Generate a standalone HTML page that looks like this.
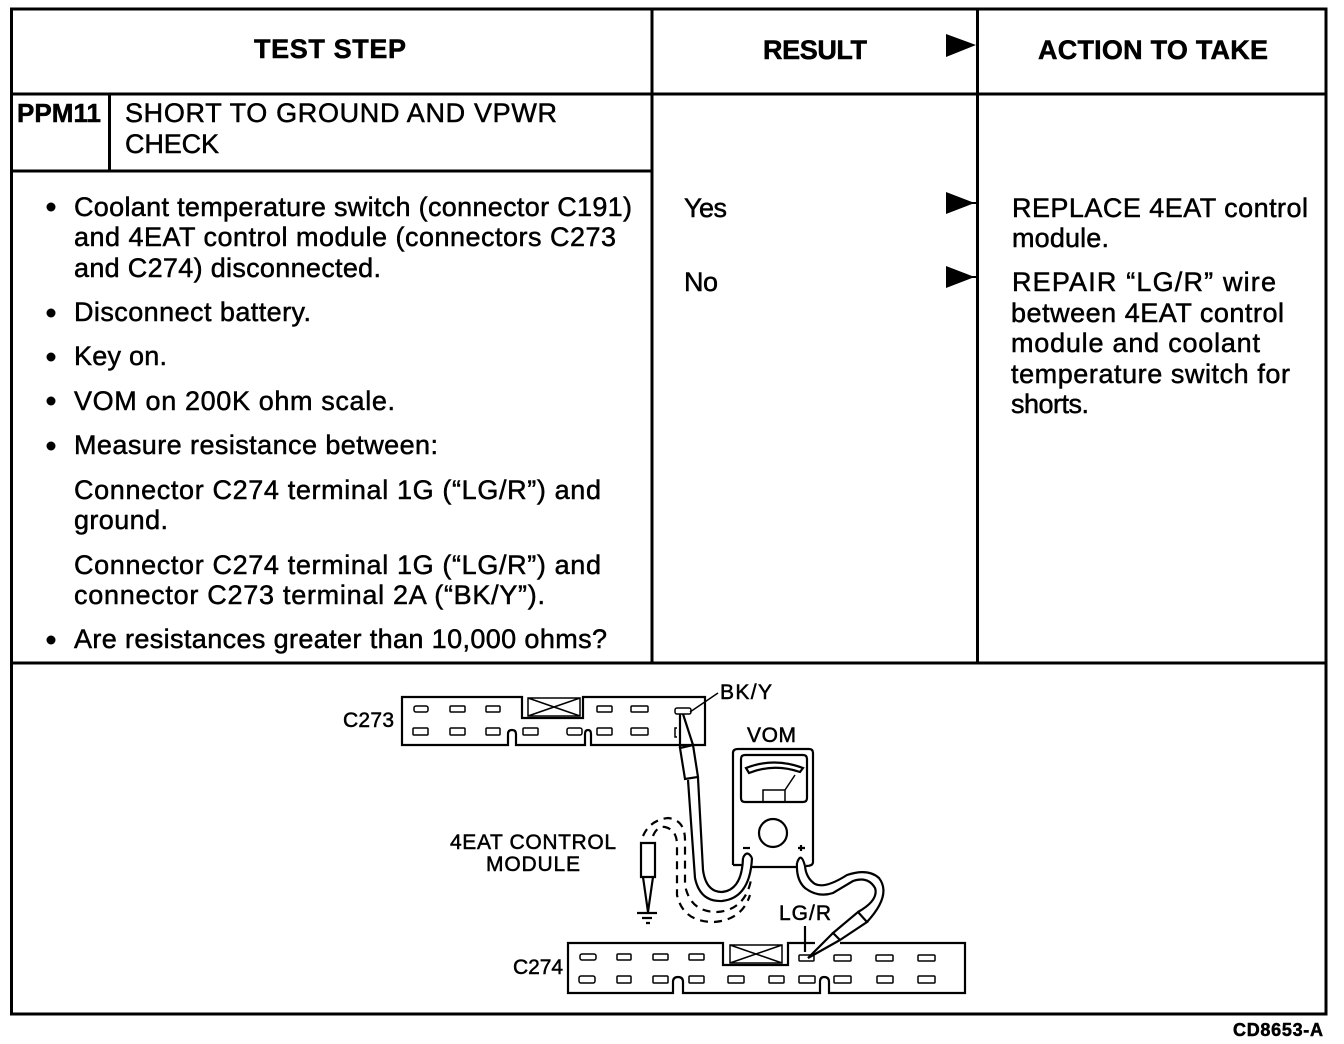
<!DOCTYPE html>
<html><head><meta charset="utf-8">
<style>
html,body{margin:0;padding:0;background:#fff}
svg{display:block}
text{font-family:"Liberation Sans",sans-serif;fill:#000;stroke:#000;stroke-width:.5px}
.b{font-size:27px;font-weight:bold}
.t{font-size:27px}
.s{font-size:21px}
.l{stroke:#000;stroke-width:3;fill:none}
.n{stroke:#000;stroke-width:1.5;fill:none}
.m{stroke:#000;stroke-width:2.2;fill:none}
.d{stroke:#000;stroke-width:2.2;fill:none;stroke-dasharray:8 6}
.w{stroke:#000;stroke-width:2.2;fill:#fff}
</style></head>
<body>
<svg width="1344" height="1044" viewBox="0 0 1344 1044" xmlns="http://www.w3.org/2000/svg">
<rect width="1344" height="1044" fill="#fff"/>
<!-- table frame -->
<rect x="11.500" y="9" width="1314.500" height="1005" class="l"/>
<path class="l" d="M11 94H1326M11 171H652M11 663H1326M652 9V663M977.500 9V663M109.500 94V171"/>
<!-- header -->
<text class="b" x="254" y="58" textLength="152" lengthAdjust="spacing">TEST STEP</text>
<text class="b" x="763" y="59" textLength="104" lengthAdjust="spacing">RESULT</text>
<text class="b" x="1038" y="59" textLength="230" lengthAdjust="spacing">ACTION TO TAKE</text>
<path d="M946 34L976 45L946 57Z"/>
<path d="M946 192L972 202H977V204H972L946 214Z"/>
<path d="M946 266L972 276H977V278H972L946 288Z"/>
<!-- step title -->
<text class="b" x="17" y="122" style="font-size:26px" textLength="84" lengthAdjust="spacing">PPM11</text>
<text class="t" x="125" y="122" textLength="432" lengthAdjust="spacing">SHORT TO GROUND AND VPWR</text>
<text class="t" x="125" y="153" textLength="94" lengthAdjust="spacing">CHECK</text>
<!-- bullets -->
<g>
<circle cx="51" cy="207" r="4.500"/><circle cx="51" cy="313" r="4.500"/><circle cx="51" cy="357" r="4.500"/>
<circle cx="51" cy="401" r="4.500"/><circle cx="51" cy="446" r="4.500"/><circle cx="51" cy="640" r="4.500"/>
</g>
<text class="t" x="74" y="216" textLength="558" lengthAdjust="spacing">Coolant temperature switch (connector C191)</text>
<text class="t" x="74" y="246" textLength="542" lengthAdjust="spacing">and 4EAT control module (connectors C273</text>
<text class="t" x="74" y="277" textLength="307" lengthAdjust="spacing">and C274) disconnected.</text>
<text class="t" x="74" y="321" textLength="237" lengthAdjust="spacing">Disconnect battery.</text>
<text class="t" x="74" y="365" textLength="93" lengthAdjust="spacing">Key on.</text>
<text class="t" x="74" y="410" textLength="321" lengthAdjust="spacing">VOM on 200K ohm scale.</text>
<text class="t" x="74" y="454" textLength="364" lengthAdjust="spacing">Measure resistance between:</text>
<text class="t" x="74" y="499" textLength="527" lengthAdjust="spacing">Connector C274 terminal 1G (“LG/R”) and</text>
<text class="t" x="74" y="529" textLength="94" lengthAdjust="spacing">ground.</text>
<text class="t" x="74" y="574" textLength="527" lengthAdjust="spacing">Connector C274 terminal 1G (“LG/R”) and</text>
<text class="t" x="74" y="604" textLength="471" lengthAdjust="spacing">connector C273 terminal 2A (“BK/Y”).</text>
<text class="t" x="74" y="648" textLength="533" lengthAdjust="spacing">Are resistances greater than 10,000 ohms?</text>
<!-- result -->
<text class="t" x="684" y="217" textLength="43" lengthAdjust="spacing">Yes</text>
<text class="t" x="684" y="291" textLength="34" lengthAdjust="spacing">No</text>
<!-- action -->
<text class="t" x="1012" y="217" textLength="296" lengthAdjust="spacing">REPLACE 4EAT control</text>
<text class="t" x="1012" y="247" textLength="97" lengthAdjust="spacing">module.</text>
<text class="t" x="1012" y="291" textLength="264" lengthAdjust="spacing">REPAIR “LG/R” wire</text>
<text class="t" x="1011" y="322" textLength="273" lengthAdjust="spacing">between 4EAT control</text>
<text class="t" x="1011" y="352" textLength="249" lengthAdjust="spacing">module and coolant</text>
<text class="t" x="1011" y="383" textLength="279" lengthAdjust="spacing">temperature switch for</text>
<text class="t" x="1011" y="413" textLength="78" lengthAdjust="spacing">shorts.</text>
<!-- C273 connector -->
<path class="m" d="M402 697H522V718H583V697H705V745H591V734Q591 730 588 730Q585 730 585 734V745H516V734Q516 730 512 730Q508 730 508 734V745H402Z"/>
<path class="n" d="M528 698H580V716H528ZM528 698L580 716M580 698L528 716"/>
<g class="n">
<rect x="414" y="706" width="14" height="6" rx="2"/><rect x="450" y="706" width="15" height="6" rx="1"/><rect x="486" y="706" width="14" height="6" rx="1"/>
<rect x="597" y="706" width="15" height="6" rx="1"/><rect x="631" y="706" width="17" height="6" rx="1"/><rect x="675" y="708" width="16" height="6" rx="2"/>
<rect x="413" y="728" width="15" height="7" rx="1"/><rect x="450" y="728" width="15" height="7" rx="1"/><rect x="486" y="728" width="14" height="7" rx="1"/>
<rect x="523" y="728" width="15" height="7" rx="1"/><rect x="567" y="728" width="15" height="7" rx="2"/><rect x="597" y="728" width="15" height="7" rx="1"/><rect x="631" y="728" width="17" height="7" rx="1"/>
<path d="M677 728H675V737H677"/>
</g>
<path class="n" d="M690 712L718 693"/>
<text class="s" x="343" y="727" textLength="51" lengthAdjust="spacing">C273</text>
<text class="s" x="720" y="699" textLength="52" lengthAdjust="spacing">BK/Y</text>
<!-- black lead -->
<path class="m" d="M688 780L695 878Q700 902 722 901Q750 898 752 858"/>
<path class="m" d="M698 778L703 870Q706 892 722 892Q742 890 743 858"/>
<path class="m" d="M743 858Q747 849 752 858"/>
<!-- red probe -->
<path class="w" d="M680 748L693 745L698 777L685 779Z"/>
<path class="m" d="M680 714V748M683 714L693 745"/>
<!-- VOM -->
<text class="s" x="747" y="742" textLength="49" lengthAdjust="spacing">VOM</text>
<path class="m" d="M733 865V753Q733 749 738 749H809Q813 749 813 753V862Q813 866 806 866M752 867H797M733 865H742"/>
<path class="m" d="M745 755H803Q807 755 807 759V798Q807 802 803 802H745Q741 802 741 798V759Q741 755 745 755Z"/>
<path class="m" d="M746 768Q774 757 803 768L800 772Q774 763 749 773Z"/>
<path class="n" d="M785 790L795 775M763 802V790H785V802"/>
<circle cx="773" cy="833" r="14" class="m"/>
<path class="m" d="M743 848H750"/>
<path class="m" d="M798 848H805M801 845V851"/>
<!-- dashed lead -->
<path class="d" d="M643 836Q650 820 668 818Q685 820 685 840V885Q690 912 717 912Q745 910 751 880"/>
<path class="d" d="M653 836Q657 826 665 827Q677 830 677 845V895Q683 922 714 922Q742 920 750 895"/>
<!-- ground probe -->
<path class="w" d="M641 843H655V877H641Z"/>
<path class="m" d="M643 877L648 912L653 877"/>
<path class="m" d="M637 913H657M642 918H652M646 923H650"/>
<!-- right lead -->
<path class="m" d="M797 863Q796 880 805 888Q818 898 833 893L853 881Q868 876 875 888Q879 900 858 912"/>
<path class="m" d="M805 866Q806 878 815 884Q825 889 847 875Q868 868 879 878Q892 895 867 922"/>
<path class="m" d="M797 863Q801 851 805 866"/>
<!-- C274 connector -->
<path class="m" d="M815 943H788V965H723V943H568V993H673V982Q673 977 678 977Q683 977 683 982V993H820V982Q820 977 824 977Q829 977 829 982V993H965V943H840"/>
<path class="n" d="M730 945H782V963H730ZM730 945L782 963M782 945L730 963"/>
<g class="n">
<rect x="580" y="954" width="16" height="6" rx="2"/><rect x="617" y="954" width="14" height="6" rx="1"/><rect x="653" y="954" width="15" height="6" rx="1"/><rect x="689" y="954" width="15" height="6" rx="1"/>
<rect x="799" y="955" width="15" height="6" rx="1"/><rect x="834" y="955" width="17" height="6" rx="1"/><rect x="876" y="955" width="17" height="6" rx="1"/><rect x="918" y="955" width="17" height="6" rx="1"/>
<rect x="579" y="976" width="16" height="7" rx="2"/><rect x="617" y="976" width="14" height="7" rx="1"/><rect x="653" y="976" width="15" height="7" rx="1"/><rect x="689" y="976" width="15" height="7" rx="1"/>
<rect x="728" y="976" width="16" height="7" rx="1"/><rect x="769" y="976" width="15" height="7" rx="1"/><rect x="799" y="976" width="16" height="7" rx="1"/><rect x="834" y="976" width="17" height="7" rx="1"/><rect x="877" y="976" width="16" height="7" rx="1"/><rect x="918" y="976" width="17" height="7" rx="1"/>
</g>
<text class="s" x="513" y="974" textLength="50" lengthAdjust="spacing">C274</text>
<text class="s" x="779" y="920" textLength="52" lengthAdjust="spacing">LG/R</text>
<path class="m" d="M805 926V952"/>
<!-- LG/R probe -->
<path class="w" d="M833 933L858 912L867 922L840 940Z"/>
<path class="m" d="M833 933L808 958L840 940"/>
<!-- labels -->
<text class="s" x="450" y="849" textLength="166" lengthAdjust="spacing">4EAT CONTROL</text>
<text class="s" x="486" y="871" textLength="94" lengthAdjust="spacing">MODULE</text>
<text x="1233" y="1036" style="font-size:18px;font-weight:bold" textLength="90" lengthAdjust="spacing">CD8653-A</text>
</svg>
</body></html>
